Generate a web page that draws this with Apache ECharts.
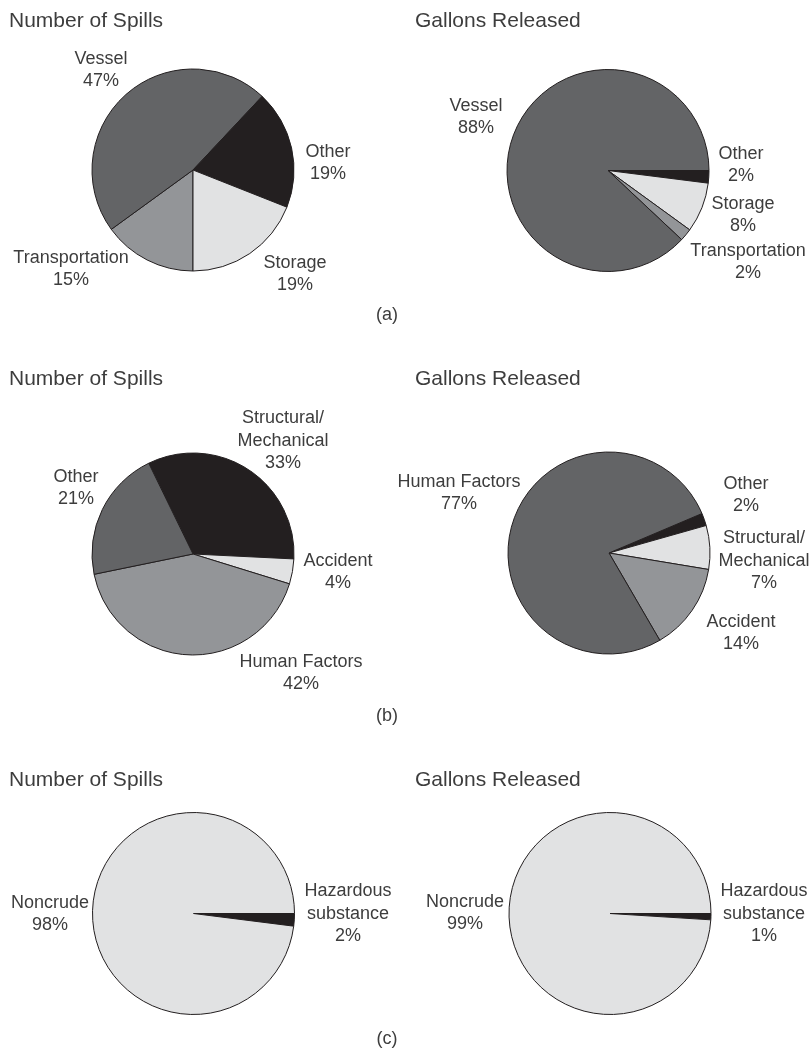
<!DOCTYPE html>
<html>
<head>
<meta charset="utf-8">
<script src="https://cdn.jsdelivr.net/npm/echarts@6/dist/echarts.min.js"></script>
<style>
html,body{margin:0;padding:0;background:#fff;}
#c{width:811px;height:1050px;}
</style>
</head>
<body>
<div id="c"></div>
<script>
// ---- data ----
const panelTitles = ['Number of Spills', 'Gallons Released'];
const panelTags = ['(a)', '(b)', '(c)'];

const aSpillsCats = ['Transportation', 'Vessel', 'Other', 'Storage'];
const aSpillsVals = [15, 47, 19, 19];
const aGallonsCats = ['Other', 'Storage', 'Transportation', 'Vessel'];
const aGallonsVals = [2, 8, 2, 88];

const bSpillsCats = ['Structural/\nMechanical', 'Accident', 'Human Factors', 'Other'];
const bSpillsVals = [33, 4, 42, 21];
const bGallonsCats = ['Other', 'Structural/\nMechanical', 'Accident', 'Human Factors'];
const bGallonsVals = [2, 7, 14, 77];

const cSpillsCats = ['Hazardous\nsubstance', 'Noncrude'];
const cSpillsVals = [2, 98];
const cGallonsCats = ['Hazardous\nsubstance', 'Noncrude'];
const cGallonsVals = [1, 99];

// ---- styles / layout ----
const DARK = '#636466', BLACK = '#231f20', MID = '#939598', LIGHT = '#e1e2e3';
const TEXT = '#3d3d3d';
const FONT = '"Liberation Sans", Arial, sans-serif';

const pies = [
  {cats: aSpillsCats, vals: aSpillsVals, colors: [MID, DARK, BLACK, LIGHT], center: [193, 170], start: 270,
   labels: [[71, 269], [101, 70], [328, 163], [295, 274]]},
  {cats: aGallonsCats, vals: aGallonsVals, colors: [BLACK, LIGHT, MID, DARK], center: [608, 170.5], start: 0,
   labels: [[741, 165], [743, 215], [748, 262], [476, 117]]},
  {cats: bSpillsCats, vals: bSpillsVals, colors: [BLACK, LIGHT, MID, DARK], center: [193, 554], start: 116,
   labels: [[283, 441], [338, 572], [301, 673], [76, 488]]},
  {cats: bGallonsCats, vals: bGallonsVals, colors: [BLACK, LIGHT, MID, DARK], center: [609, 553], start: 23,
   labels: [[746, 495], [764, 561], [741, 633], [459, 493]]},
  {cats: cSpillsCats, vals: cSpillsVals, colors: [BLACK, LIGHT], center: [193.5, 913.5], start: 0,
   labels: [[348, 914], [50, 914]]},
  {cats: cGallonsCats, vals: cGallonsVals, colors: [BLACK, LIGHT], center: [610, 913.5], start: 0,
   labels: [[764, 914], [465, 913]]}
];

const titlePos = [[9, 21.5], [415, 21.5], [9, 379], [415, 379], [9, 780], [415, 780]];
const tagPos = [[387, 315], [387, 716], [387, 1039]];

const series = pies.map((p, si) => ({
  type: 'pie',
  center: p.center,
  radius: 101,
  startAngle: p.start,
  clockwise: true,
  silent: true,
  animation: false,
  avoidLabelOverlap: false,
  itemStyle: {borderColor: '#231f20', borderWidth: 1},
  labelLine: {show: false},
  label: {
    show: true,
    position: 'outside',
    formatter: (d) => d.name + '\n' + d.value + '%',
    color: TEXT,
    fontFamily: FONT,
    fontSize: 18,
    lineHeight: 22.5,
    align: 'center'
  },
  labelLayout: (params) => {
    const pos = p.labels[params.dataIndex];
    return {x: pos[0], y: pos[1], align: 'center', verticalAlign: 'middle'};
  },
  data: p.vals.map((v, i) => ({name: p.cats[i], value: v, itemStyle: {color: p.colors[i]}}))
}));

const graphics = [];
titlePos.forEach((pos, i) => {
  graphics.push({type: 'text', x: pos[0], y: pos[1], silent: true,
    style: {text: panelTitles[i % 2], fill: TEXT, font: '21px ' + FONT, textVerticalAlign: 'middle', textAlign: 'left'}});
});
tagPos.forEach((pos, i) => {
  graphics.push({type: 'text', x: pos[0], y: pos[1], silent: true,
    style: {text: panelTags[i], fill: TEXT, font: '18px ' + FONT, textVerticalAlign: 'middle', textAlign: 'center'}});
});

const chart = echarts.init(document.getElementById('c'), null, {renderer: 'canvas'});
chart.setOption({
  backgroundColor: '#ffffff',
  animation: false,
  series: series,
  graphic: graphics
});
</script>
</body>
</html>
